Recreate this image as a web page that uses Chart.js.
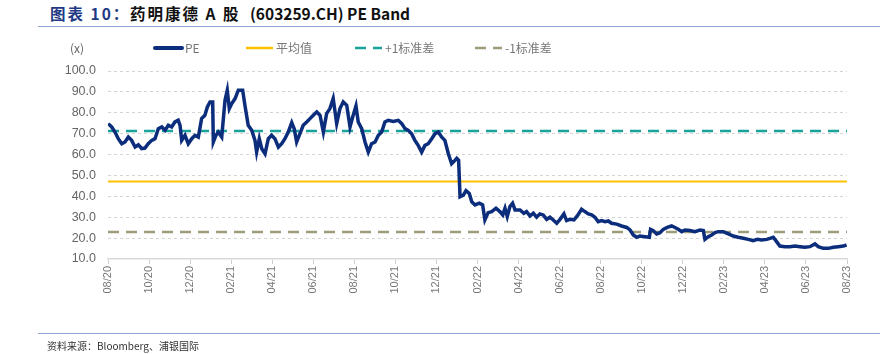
<!DOCTYPE html>
<html>
<head>
<meta charset="utf-8">
<script src="https://cdn.jsdelivr.net/npm/chart.js@4.4.1/dist/chart.umd.min.js"></script>
<style>
  body { margin: 0; background: #fff; width: 882px; height: 354px; position: relative; overflow: hidden; }
  .t { position: absolute; top: 2px; font: bold 15.5px "Noto Sans CJK SC", "Noto Sans", sans-serif; color: #111; white-space: pre; }
  .t.num { color: #1f3a85; }
  .cjk { letter-spacing: 2px; }
  .rule { position: absolute; left: 38px; right: 2px; height: 0; border-top: 1.5px solid #8fa6d0; }
  #source { position: absolute; left: 47px; top: 338px; font: 10px "Noto Sans CJK SC", sans-serif; color: #333; }
  #wrap { position: absolute; left: 0; top: 0; width: 882px; height: 354px; }
</style>
</head>
<body>
<div class="t num cjk" style="left:50px">图表 10：</div>
<div class="t cjk" style="left:130px">药明康德 A 股</div>
<div class="t" style="left:250px">(603259.CH) PE Band</div>
<div class="rule" style="top:26px"></div>
<div id="wrap"><canvas id="chart"></canvas></div>
<div class="rule" style="top:333px"></div>
<div id="source">资料来源：Bloomberg、浦银国际</div>
<script>
// x 轴标签（每两个月一个）
const tickLabels = ['08/20','10/20','12/20','02/21','04/21','06/21','08/21','10/21','12/21',
  '02/22','04/22','06/22','08/22','10/22','12/22','02/23','04/23','06/23','08/23'];

// PE 数据：距 2020/08 的月数，以及对应 PE 值
const peMonth = [
  0.01,0.18,0.34,0.50,0.67,0.83,0.99,1.15,1.32,1.48,1.64,1.80,1.96,2.13,2.29,2.45,2.62,2.78,2.94,3.10,
  3.26,3.42,3.51,3.59,3.75,3.91,4.08,4.24,4.40,4.56,4.72,4.84,4.97,5.10,5.13,5.26,5.37,5.54,5.70,5.81,
  5.91,6.03,6.19,6.35,6.56,6.67,6.83,7.00,7.16,7.24,7.37,7.49,7.65,7.81,7.97,8.13,8.30,8.46,8.62,8.78,
  8.95,9.07,9.19,9.35,9.51,9.68,9.84,10.00,10.17,10.33,10.49,10.65,10.81,10.97,11.14,11.30,11.46,11.63,11.79,11.92,
  12.08,12.19,12.36,12.52,12.68,12.84,13.01,13.17,13.33,13.49,13.65,13.90,14.14,14.31,14.47,14.63,14.79,14.95,15.11,15.28,
  15.44,15.60,15.77,15.93,16.09,16.25,16.41,16.58,16.74,16.90,16.99,17.08,17.15,17.31,17.44,17.60,17.72,17.88,18.09,18.25,
  18.36,18.52,18.69,18.90,19.09,19.23,19.34,19.45,19.58,19.71,19.83,20.07,20.26,20.39,20.56,20.72,20.88,21.04,21.20,21.37,
  21.53,21.69,21.86,22.02,22.21,22.34,22.50,22.70,22.86,23.07,23.23,23.40,23.56,23.72,23.88,24.05,24.21,24.37,24.53,24.78,
  25.02,25.27,25.43,25.59,25.75,25.91,26.16,26.37,26.43,26.56,26.73,26.89,27.05,27.24,27.46,27.62,27.78,27.95,28.11,28.35,
  28.59,28.84,29.00,29.08,29.24,29.41,29.57,29.73,29.97,30.22,30.46,30.70,30.95,31.19,31.43,31.63,31.84,32.09,32.25,32.41,
  32.57,32.73,32.98,33.22,33.46,33.71,33.95,34.19,34.44,34.60,34.84,35.09,35.33,35.57,35.82,35.98
];
const peValue = [
  74.8,73.2,70.8,67.6,65.2,66.0,68.4,66.8,63.6,64.7,62.8,63.1,65.2,66.8,67.6,72.4,73.2,71.6,74.0,73.2,
  75.6,76.4,74.0,66.8,69.2,65.2,67.6,69.2,68.4,77.2,78.8,82.8,85.2,85.2,66.0,69.2,70.8,68.4,86.0,90.8,
  82.0,84.4,86.8,90.8,90.8,83.6,74.0,71.6,66.8,61.2,67.6,62.8,60.4,67.6,69.2,67.6,63.6,65.2,67.6,70.8,
  75.3,72.4,66.0,70.0,74.0,75.6,77.2,78.8,80.4,78.8,70.8,79.6,82.0,86.8,74.8,82.0,85.2,83.6,73.2,78.0,
  83.3,75.6,72.4,66.0,61.2,65.2,66.0,69.2,70.8,75.6,76.4,75.9,76.4,74.8,72.4,71.6,70.0,66.8,64.4,61.2,
  64.4,65.2,67.6,70.0,70.8,68.4,66.8,60.4,55.6,57.2,58.2,57.3,39.8,40.6,42.7,41.4,37.4,35.9,36.7,35.9,
  28.7,32.2,32.7,34.3,32.7,31.1,34.3,30.3,35.1,36.7,33.5,33.5,31.9,32.7,30.6,31.9,30.0,31.6,31.1,29.0,
  30.0,28.7,27.1,29.0,31.6,28.4,29.0,28.7,30.6,33.8,32.7,31.6,31.1,30.0,27.9,28.4,27.9,28.2,27.1,26.7,
  25.8,25.1,23.9,21.5,20.4,21.0,20.7,20.4,24.2,23.6,22.0,22.6,24.2,25.1,25.8,25.1,24.2,23.1,23.9,23.6,
  23.1,23.9,23.6,19.4,20.7,21.5,22.6,23.1,23.1,22.0,21.0,20.4,19.9,19.4,18.8,19.4,19.1,19.4,19.9,20.4,
  18.3,16.2,15.9,15.9,16.2,15.9,15.6,15.9,17.2,15.9,15.1,15.1,15.6,15.9,16.2,16.7
];

const meanPE = 47.1;
const plusOneStd = 71.3;
const minusOneStd = 22.9;

const seriesNames = ['PE', '平均值', '+1标准差', '-1标准差'];

const xMin = 0, xMax = 36;
const flat = v => [{ x: xMin, y: v }, { x: xMax, y: v }];

// 自绘图例，固定在图表上方
const topLegend = {
  id: 'topLegend',
  afterDraw(chart) {
    const ctx = chart.ctx;
    const xs = [155, 246, 355, 475];
    const y = 48;
    ctx.save();
    ctx.font = '12px "Noto Sans CJK SC", sans-serif';
    ctx.fillStyle = '#666';
    ctx.textBaseline = 'middle';
    ctx.fillText('(x)', 70, y);
    chart.data.datasets.forEach((ds, i) => {
      ctx.beginPath();
      ctx.strokeStyle = ds.borderColor;
      ctx.lineWidth = i === 0 ? 4 : 2.5;
      ctx.setLineDash(ds.borderDash || []);
      ctx.lineCap = i === 0 ? 'round' : 'butt';
      ctx.moveTo(xs[i], y);
      ctx.lineTo(xs[i] + 27, y);
      ctx.stroke();
      ctx.setLineDash([]);
      ctx.fillStyle = '#777';
      ctx.fillText(ds.label, xs[i] + 30, y);
    });
    ctx.restore();
  }
};

new Chart(document.getElementById('chart'), {
  type: 'line',
  data: {
    datasets: [
      {
        label: seriesNames[0],
        data: peMonth.map((m, i) => ({ x: m, y: peValue[i] })),
        borderColor: '#0b2d7c',
        borderWidth: 3.5,
        pointRadius: 0,
        tension: 0,
        order: 0
      },
      {
        label: seriesNames[1],
        data: flat(meanPE),
        borderColor: '#ffc000',
        borderWidth: 2,
        pointRadius: 0,
        order: 3
      },
      {
        label: seriesNames[2],
        data: flat(plusOneStd),
        borderColor: '#19a39a',
        borderWidth: 2.5,
        borderDash: [11, 7],
        pointRadius: 0,
        order: 2
      },
      {
        label: seriesNames[3],
        data: flat(minusOneStd),
        borderColor: '#9e9c7a',
        borderWidth: 2.5,
        borderDash: [11, 7],
        pointRadius: 0,
        order: 1
      }
    ]
  },
  options: {
    responsive: true,
    maintainAspectRatio: false,
    animation: false,
    layout: { padding: { left: 0, right: 35, top: 71, bottom: 0 } },
    plugins: {
      legend: { display: false },
      tooltip: { enabled: false }
    },
    scales: {
      x: {
        type: 'linear',
        min: xMin,
        max: xMax,
        afterFit: s => { s.height = 95; },
        ticks: {
          stepSize: 2,
          autoSkip: false,
          minRotation: 90,
          maxRotation: 90,
          padding: 2,
          color: '#777',
          font: { family: 'Liberation Sans', size: 11 },
          callback: v => tickLabels[v / 2]
        },
        grid: { drawOnChartArea: false, drawTicks: true, tickLength: 5, color: '#d0d0d0' },
        border: { display: true, color: '#d9d9d9', width: 1.5 }
      },
      y: {
        min: 10,
        max: 100,
        afterFit: s => { s.width = 108; },
        ticks: {
          stepSize: 10,
          padding: 12,
          color: '#666',
          font: { family: 'Liberation Sans', size: 12.5 },
          callback: v => v.toFixed(1)
        },
        grid: {
          color: c => c.tick.value === 10 ? 'rgba(0,0,0,0)' : '#d4d4d4',
          lineWidth: 1,
          drawTicks: false
        },
        border: { display: false, dash: [3, 3] }
      }
    }
  },
  plugins: [topLegend]
});
</script>
</body>
</html>
